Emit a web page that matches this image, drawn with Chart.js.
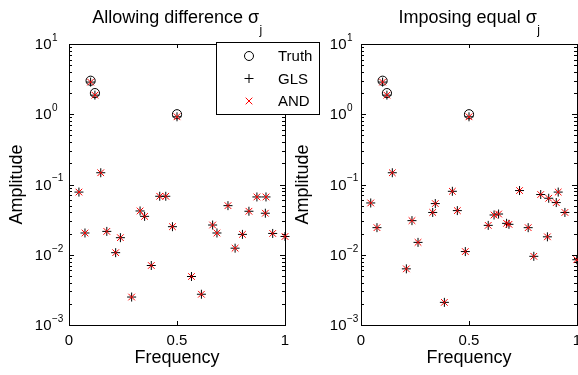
<!DOCTYPE html>
<html>
<head>
<meta charset="utf-8">
<script src="https://cdn.jsdelivr.net/npm/chart.js@4.4.1/dist/chart.umd.min.js"></script>
<style>
    html, body { margin: 0; padding: 0; background: #fff; overflow: hidden; }
    #wrap { position: relative; width: 578px; height: 375px; overflow: hidden; }
    #left { position: absolute; left: 0; top: 0; width: 340px; height: 375px; z-index: 2; }
    #right { position: absolute; left: 286px; top: 0; width: 314px; height: 375px; z-index: 1; }
</style>
</head>
<body>
<div id="wrap">
    <div id="left"><canvas id="chartLeft"></canvas></div>
    <div id="right"><canvas id="chartRight"></canvas></div>
</div>
<script>
// true spectral lines (same in both panels)
const truthFreq = [0.1, 0.12, 0.5];
const truthAmp = [3.0, 2.0, 1.0];

// left panel: allowing different sigma_j
const leftFreq = [0.046, 0.074, 0.1, 0.12, 0.147, 0.175, 0.216, 0.238, 0.29, 0.329, 0.35, 0.381, 0.42, 0.448, 0.479, 0.5,
    0.567, 0.613, 0.665, 0.685, 0.736, 0.769, 0.803, 0.833, 0.87, 0.909, 0.912, 0.943, 1.0];
const leftGls = [0.078, 0.0204, 2.87, 1.87, 0.147, 0.0215, 0.0107, 0.0175, 0.0025, 0.042, 0.0352, 0.00703, 0.068, 0.068, 0.0251, 0.92,
    0.0049, 0.00274, 0.0265, 0.0204, 0.050, 0.0124, 0.0195, 0.0416, 0.0665, 0.039, 0.0665, 0.0201, 0.0182];
const leftAnd = [0.078, 0.0204, 2.87, 1.87, 0.147, 0.0215, 0.0107, 0.0175, 0.0025, 0.042, 0.0352, 0.00703, 0.068, 0.068, 0.0251, 0.92,
    0.0049, 0.00274, 0.0265, 0.0204, 0.050, 0.0124, 0.0195, 0.0416, 0.0665, 0.039, 0.0665, 0.0201, 0.0182];

// right panel: imposing equal sigma_j
const rightFreq = [0.045, 0.074, 0.1, 0.12, 0.145, 0.21, 0.236, 0.264, 0.332, 0.344, 0.386, 0.423, 0.446, 0.483, 0.5,
    0.589, 0.616, 0.637, 0.674, 0.685, 0.734, 0.774, 0.8, 0.832, 0.863, 0.869, 0.904, 0.913, 0.944, 0.999];
const rightGls = [0.0546, 0.0243, 2.87, 1.87, 0.147, 0.0063, 0.0306, 0.015, 0.040, 0.0535, 0.0021, 0.080, 0.0425, 0.0111, 0.92,
    0.0262, 0.0368, 0.038, 0.028, 0.0271, 0.082, 0.0243, 0.0095, 0.072, 0.018, 0.0637, 0.0553, 0.078, 0.040, 0.0085];
const rightAnd = [0.0546, 0.0243, 2.87, 1.87, 0.147, 0.0063, 0.0306, 0.015, 0.040, 0.0535, 0.0021, 0.080, 0.0425, 0.0111, 0.92,
    0.0262, 0.0368, 0.038, 0.028, 0.0271, 0.082, 0.0243, 0.0095, 0.072, 0.018, 0.0637, 0.0553, 0.078, 0.040, 0.0085];

const xTicks = [0, 0.5, 1];
const yTickExps = [1, 0, -1, -2, -3];
const seriesNames = ["Truth", "GLS", "AND"];

const FONT = "'Liberation Sans', Arial, sans-serif";
Chart.defaults.font.family = FONT;
Chart.defaults.color = "#000";

function pts(xs, ys) {
    return xs.map((x, i) => ({ x: x, y: ys[i] }));
}

function strokeMarker(ctx, style, r, x, y) {
    ctx.beginPath();
    if (style === "circle") {
        ctx.arc(x, y, r, 0, Math.PI * 2);
    } else if (style === "cross") {
        ctx.moveTo(x - r, y); ctx.lineTo(x + r, y);
        ctx.moveTo(x, y - r); ctx.lineTo(x, y + r);
    } else {
        const d = r * Math.SQRT1_2;
        ctx.moveTo(x - d, y - d); ctx.lineTo(x + d, y + d);
        ctx.moveTo(x - d, y + d); ctx.lineTo(x + d, y - d);
    }
    ctx.stroke();
}

// box, inside ticks, 10^n labels and the panel title
function framePlugin(title, labelGap) {
    return {
        id: "frame",
        beforeDatasetsDraw(chart) {
            const { ctx, chartArea: a, scales } = chart;
            ctx.save();
            ctx.strokeStyle = "#000";
            ctx.lineWidth = 1;
            ctx.strokeRect(a.left + 0.5, a.top + 0.5, a.right - a.left, a.bottom - a.top);
            ctx.beginPath();
            xTicks.forEach(v => {
                const px = Math.round(scales.x.getPixelForValue(v)) + 0.5;
                ctx.moveTo(px, a.bottom); ctx.lineTo(px, a.bottom - 4);
                ctx.moveTo(px, a.top); ctx.lineTo(px, a.top + 4);
            });
            yTickExps.forEach(e => {
                const py = Math.round(scales.y.getPixelForValue(Math.pow(10, e))) + 0.5;
                ctx.moveTo(a.left, py); ctx.lineTo(a.left + 5, py);
                ctx.moveTo(a.right, py); ctx.lineTo(a.right - 5, py);
                if (e > -3) {
                    for (let k = 2; k <= 9; k++) {
                        const my = Math.round(scales.y.getPixelForValue(k * Math.pow(10, e - 1))) + 0.5;
                        ctx.moveTo(a.left, my); ctx.lineTo(a.left + 3, my);
                        ctx.moveTo(a.right, my); ctx.lineTo(a.right - 3, my);
                    }
                }
            });
            ctx.stroke();
            ctx.restore();
        },
        afterDraw(chart) {
            const { ctx, chartArea: a, scales } = chart;
            ctx.save();
            ctx.fillStyle = "#000";
            ctx.textBaseline = "middle";
            const right = a.left - labelGap;
            yTickExps.forEach(e => {
                const py = scales.y.getPixelForValue(Math.pow(10, e));
                ctx.font = "15px " + FONT;
                ctx.textAlign = "right";
                ctx.fillText("10", right, py + 1);
                ctx.font = "10px " + FONT;
                ctx.textAlign = "left";
                ctx.fillText(String(e).replace("-", "\u2212"), right + 0.5, py - 6);
            });
            // title with subscript j
            ctx.textBaseline = "alphabetic";
            ctx.font = "18px " + FONT;
            const main = title + " \u03c3";
            const w1 = ctx.measureText(main).width;
            ctx.font = "12px " + FONT;
            const w2 = ctx.measureText("j").width;
            const cx = (a.left + a.right) / 2;
            const x0 = cx - (w1 + w2) / 2;
            ctx.textAlign = "left";
            ctx.font = "18px " + FONT;
            ctx.fillText(main, x0, 23);
            ctx.font = "12px " + FONT;
            ctx.fillText("j", x0 + w1 + 0.5, 34);
            ctx.restore();
        }
    };
}

const legendPlugin = {
    id: "boxLegend",
    afterDraw(chart) {
        const ctx = chart.ctx;
        ctx.save();
        ctx.fillStyle = "#fff";
        ctx.fillRect(216.5, 42.5, 103, 72);
        ctx.strokeStyle = "#000";
        ctx.lineWidth = 1;
        ctx.strokeRect(216.5, 42.5, 103, 72);
        const styles = ["circle", "cross", "crossRot"];
        const colors = ["#000", "#000", "#ff0000"];
        const radii = [4.5, 4.5, 4.7];
        seriesNames.forEach((name, i) => {
            const y = 56 + i * 22.5;
            ctx.strokeStyle = colors[i];
            strokeMarker(ctx, styles[i], radii[i], 249, y);
            ctx.fillStyle = "#000";
            ctx.font = "15px " + FONT;
            ctx.textAlign = "left";
            ctx.textBaseline = "middle";
            ctx.fillText(name, 278, y + 1);
        });
        ctx.restore();
    }
};

function makeChart(id, freq, gls, and, title, yWidth, padRight, labelGap, withLegend) {
    const plugins = [framePlugin(title, labelGap)];
    if (withLegend) plugins.push(legendPlugin);
    return new Chart(document.getElementById(id), {
        type: "scatter",
        data: {
            datasets: [
                {
                    label: seriesNames[0], data: pts(truthFreq, truthAmp), order: 3, clip: false,
                    pointStyle: "circle", pointRadius: 4.6, borderWidth: 1,
                    borderColor: "#000", backgroundColor: "rgba(0,0,0,0)"
                },
                {
                    label: seriesNames[1], data: pts(freq, gls), order: 2, clip: false,
                    pointStyle: "cross", pointRadius: 4.5, borderWidth: 1,
                    borderColor: "#000", backgroundColor: "#000"
                },
                {
                    label: seriesNames[2], data: pts(freq, and), order: 1, clip: false,
                    pointStyle: "crossRot", pointRadius: 4.7, borderWidth: 1,
                    borderColor: "#ff0000", backgroundColor: "#ff0000"
                }
            ]
        },
        options: {
            responsive: true,
            maintainAspectRatio: false,
            animation: false,
            events: [],
            layout: { padding: { left: 0, top: 44, right: padRight, bottom: 0 } },
            plugins: {
                legend: { display: false },
                tooltip: { enabled: false },
                title: { display: false }
            },
            scales: {
                x: {
                    type: "linear",
                    min: 0,
                    max: 1,
                    grid: { display: false, drawTicks: false },
                    border: { display: false },
                    ticks: {
                        stepSize: 0.5, maxRotation: 0, padding: 7, color: "#000", font: { size: 15 },
                        callback: v => String(v)
                    },
                    title: {
                        display: true, text: "Frequency", color: "#000",
                        font: { size: 18 }, padding: { top: 0, bottom: 6 }
                    },
                    afterFit: s => { s.height = 50; }
                },
                y: {
                    type: "logarithmic",
                    min: 1e-3,
                    max: 10,
                    grid: { display: false, drawTicks: false },
                    border: { display: false },
                    ticks: { display: false },
                    title: {
                        display: true, text: "Amplitude", color: "#000",
                        font: { size: 18 }, padding: { top: 6, bottom: 0 }
                    },
                    afterFit: s => { s.width = yWidth; }
                }
            }
        },
        plugins: plugins
    });
}

makeChart("chartLeft", leftFreq, leftGls, leftAnd, "Allowing difference", 69, 55, 17.5, true);
makeChart("chartRight", rightFreq, rightGls, rightAnd, "Imposing equal", 75, 23, 14.5, false);
</script>
</body>
</html>
